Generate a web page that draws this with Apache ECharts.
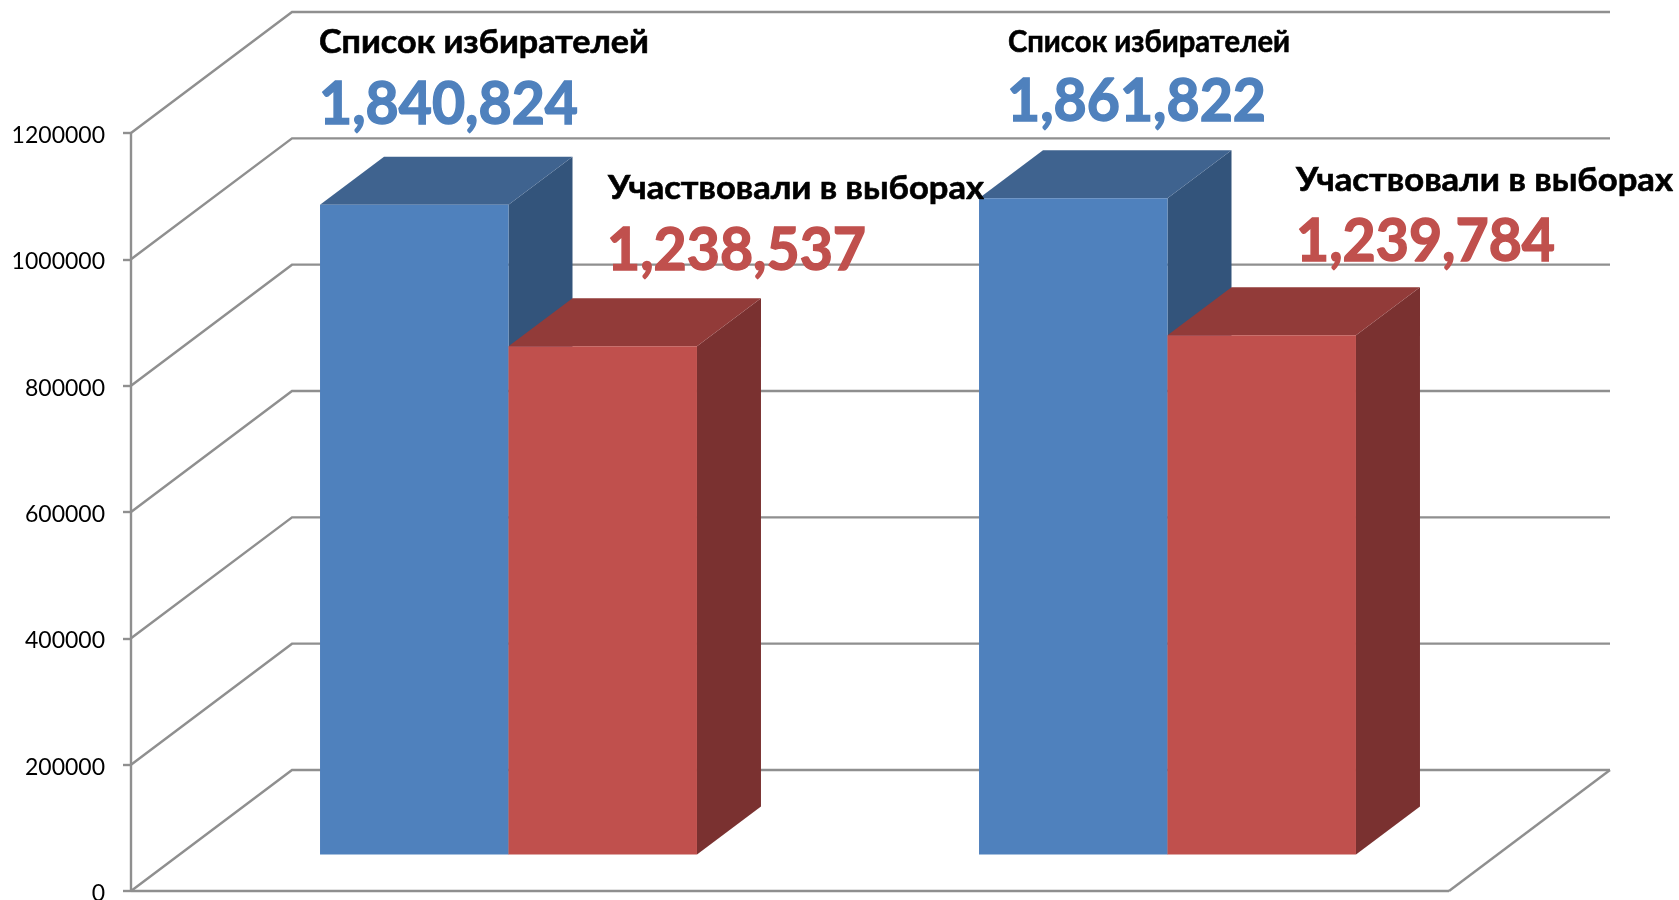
<!DOCTYPE html>
<html>
<head>
<meta charset="utf-8">
<title>chart</title>
<style>
  html, body { margin: 0; padding: 0; background: #fff; }
  #main { width: 1679px; height: 900px; }
</style>
<script src="https://cdn.jsdelivr.net/npm/echarts@6/dist/echarts.min.js"></script>
</head>
<body>
<div id="main"></div>
<script>
// data
var categories = ['A', 'B'];
var voterBars = [1028700, 1039000];
var turnoutBars = [804800, 822200];
var yTicks = [0, 200000, 400000, 600000, 800000, 1000000, 1200000];
var voterTitles = ['Список избирателей', 'Список избирателей'];
var voterTotals = ['1,840,824', '1,861,822'];
var turnoutTitles = ['Участвовали в выборах', 'Участвовали в выборах'];
var turnoutTotals = ['1,238,537', '1,239,784'];

// fake 3d, everything in px
var wallDepth = [161, -121];
var barShift = [48, -36.5];
var barDepth = [64, -48];
var barWidthRatio = 0.286;
var lineColor = '#8f8f8f';
var font = 'Lato';

var blue = { front: '#4f81bd', top: '#3f638f', side: '#33547b' };
var red = { front: '#c0504d', top: '#923b39', side: '#7a3130' };

function add(p, d) { return [p[0] + d[0], p[1] + d[1]]; }

// back wall and floor lines, one item per tick
function renderWall(params, api) {
  var v = api.value(0);
  var grid = params.coordSys;
  var y = api.coord([0, v])[1];
  var left = [grid.x, y];
  var right = [grid.x + grid.width, y];
  var points = [left, add(left, wallDepth), add(right, wallDepth)];
  var style = { stroke: lineColor, lineWidth: 2.4, fill: null };
  var children = [{ type: 'polyline', shape: { points: points }, style: style }];
  if (v === 0) {
    // floor edges and the left axis line
    var topY = api.coord([0, yTicks[yTicks.length - 1]])[1];
    children.push({ type: 'polyline', shape: { points: [right, add(right, wallDepth)] }, style: style });
    children.push({ type: 'polyline', shape: { points: [left, right] }, style: style });
    children.push({ type: 'polyline', shape: { points: [left, [grid.x, topY]] }, style: style });
  }
  return { type: 'group', silent: true, children: children };
}

function barRenderer(colors, slot) {
  return function (params, api) {
    var cat = api.value(0);
    var w = api.size([1, 0])[0] * barWidthRatio;
    var topPt = add(api.coord([cat, api.value(1)]), barShift);
    var basePt = add(api.coord([cat, 0]), barShift);
    var x0 = topPt[0] + slot * w;
    var x1 = x0 + w;
    var y0 = topPt[1];
    var y1 = basePt[1];
    return {
      type: 'group',
      children: [
        { type: 'polygon', shape: { points: [[x1, y0], add([x1, y0], barDepth), add([x1, y1], barDepth), [x1, y1]] }, style: { fill: colors.side } },
        { type: 'polygon', shape: { points: [[x0, y0], add([x0, y0], barDepth), add([x1, y0], barDepth), [x1, y0]] }, style: { fill: colors.top } },
        { type: 'rect', shape: { x: x0, y: y0, width: w, height: y1 - y0 }, style: { fill: colors.front } }
      ]
    };
  };
}

// squeeze a text to the width it has in the picture
var ctx = document.createElement('canvas').getContext('2d');
function label(text, x, y, width, size, color, heavy) {
  var f = 'bold ' + size + 'px ' + font;
  ctx.font = f;
  return {
    type: 'text',
    x: x,
    y: y,
    scaleX: width / ctx.measureText(text).width,
    z: 100,
    style: { text: text, x: 0, y: 0, font: f, fill: color, stroke: color, lineWidth: heavy, verticalAlign: 'middle' }
  };
}

var texts = [
  label(voterTitles[0], 319, 43, 330, 32, '#000', 0.6),
  label(voterTotals[0], 319, 105, 259, 60, blue.front, 1.5),
  label(turnoutTitles[0], 608, 189, 376, 32, '#000', 0.6),
  label(turnoutTotals[0], 607, 251, 259, 60, red.front, 1.5),
  label(voterTitles[1], 1008, 42, 282, 30, '#000', 0.6),
  label(voterTotals[1], 1007, 102, 259, 60, blue.front, 1.5),
  label(turnoutTitles[1], 1296, 181, 377, 32, '#000', 0.6),
  label(turnoutTotals[1], 1296, 242, 259, 60, red.front, 1.5)
];

var chart = echarts.init(document.getElementById('main'));
chart.setOption({
  animation: false,
  backgroundColor: '#fff',
  grid: { left: 131, top: 133, width: 1318, height: 758, outerBoundsMode: 'none' },
  xAxis: {
    type: 'category',
    data: categories,
    show: false
  },
  yAxis: {
    type: 'value',
    min: 0,
    max: 1200000,
    interval: 200000,
    axisLine: { show: false },
    axisTick: { show: true, length: 8, lineStyle: { color: lineColor, width: 2.4 } },
    axisLabel: {
      margin: 26,
      formatter: function (v) { return '{n|' + v + '}'; },
      rich: {
        n: { color: '#000', fontFamily: font, fontSize: 23, padding: [5, 0, 0, 0] }
      }
    },
    splitLine: { show: false }
  },
  graphic: texts,
  series: [
    {
      type: 'custom',
      renderItem: renderWall,
      data: yTicks.map(function (v) { return [v]; }),
      encode: { y: 0 },
      clip: false,
      z: 1
    },
    {
      type: 'custom',
      name: 'voters',
      renderItem: barRenderer(blue, -1),
      data: voterBars.map(function (v, i) { return [i, v]; }),
      encode: { x: 0, y: 1 },
      clip: false,
      z: 2
    },
    {
      type: 'custom',
      name: 'turnout',
      renderItem: barRenderer(red, 0),
      data: turnoutBars.map(function (v, i) { return [i, v]; }),
      encode: { x: 0, y: 1 },
      clip: false,
      z: 3
    }
  ]
});
</script>
</body>
</html>
